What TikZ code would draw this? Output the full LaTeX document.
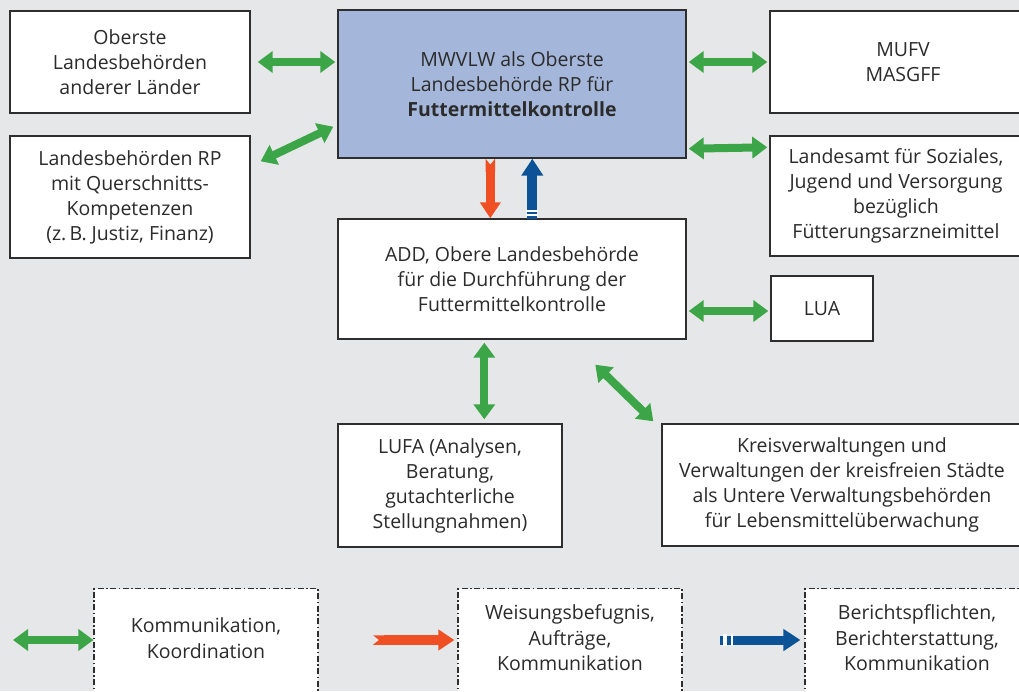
\documentclass[tikz,border=0pt]{standalone}
\usepackage{fontspec}
\setmainfont{Open Sans}
\usetikzlibrary{arrows.meta,calc}
\definecolor{bg}{HTML}{E6E7E8}
\definecolor{bd}{HTML}{2E2E2E}
\definecolor{tx}{HTML}{2B2B2B}
\definecolor{gr}{HTML}{3BA548}
\definecolor{rd}{HTML}{F04E23}
\definecolor{bl}{HTML}{0B5396}
\definecolor{mwfill}{HTML}{A4B6D9}
\begin{document}
\begin{tikzpicture}[x=1pt,y=-1pt,
  box/.style={draw=bd, line width=1.4pt, fill=white, align=center, inner sep=0pt, text=tx, font=\fontsize{19.5}{25}\selectfont},
  legbox/.style={draw=bd, line width=1.2pt, fill=white, align=center, inner sep=0pt, text=tx,
     dash pattern=on 6pt off 2.5pt on 1.5pt off 2.5pt, font=\fontsize{19.5}{25.5}\selectfont,
     minimum width=224pt, minimum height=124pt, anchor=north},
  garrow/.style={draw=gr, line width=8pt, {Triangle[width=21pt,length=15pt]}-{Triangle[width=21pt,length=15pt]}},
  rarrow/.style={draw=rd, line width=9.5pt, {Triangle Cap[reversed,length=6pt]}-{Triangle[width=20pt,length=16pt]}},
  barrow/.style={draw=bl, line width=10pt, -{Triangle[width=21pt,length=17pt]}},
  gap/.style={draw=white, line width=1.7pt}
]
\useasboundingbox (0,0) rectangle (1019,691);
\clip (0,0) rectangle (1019,691);
\fill[bg] (0,0) rectangle (1019,691);

% boxes
\node[box, minimum width=240pt, minimum height=102pt] (o1) at (130,62) {Oberste\\Landesbehörden\\anderer Länder};
\node[box, fill=mwfill, minimum width=348pt, minimum height=148pt] (mw) at (512,84) {MWVLW als Oberste\\Landesbehörde RP für\\\textbf{Futtermittelkontrolle}};
\node[box, minimum width=266pt, minimum height=102pt] (mufv) at (903,62) {MUFV\\MASGFF};
\node[box, minimum width=240pt, minimum height=122pt] (lrp) at (130,197) {Landesbehörden RP\\mit Querschnitts-\\Kompetenzen\\(z.\,B. Justiz, Finanz)};
\node[box, minimum width=252pt, minimum height=120pt] (las) at (896,196) {Landesamt für Soziales,\\Jugend und Versorgung\\bezüglich\\Fütterungsarzneimittel};
\node[box, minimum width=348pt, minimum height=120pt] (add) at (512,279) {ADD, Obere Landesbehörde\\für die Durchführung der\\Futtermittelkontrolle};
\node[box, minimum width=102pt, minimum height=65pt] (lua) at (822,308.5) {LUA};
\node[box, minimum width=224pt, minimum height=123pt] (lufa) at (450,485.5) {LUFA (Analysen,\\Beratung,\\gutachterliche\\Stellungnahmen)};
\node[box, minimum width=360pt, minimum height=122pt] (kv) at (842,485) {Kreisverwaltungen und\\Verwaltungen der kreisfreien Städte\\als Untere Verwaltungsbehörden\\für Lebensmittelüberwachung};

% connectors
\draw[garrow] ($(o1.east)+(7,0)$) -- ($(mw.west |- o1.east)+(-2,0)$);
\draw[garrow] ($(lrp.north east)+(10,26)$) -- ($(mw.south west)+(-4,-32)$);
\draw[garrow] ($(mw.east |- mufv.west)+(2,0)$) -- ($(mufv.west)+(-2,0)$);
\draw[garrow] ($(mw.south east)+(2,-10)$) -- ($(las.north west)+(-2,12)$);
\draw[garrow] ($(add.east |- 0,311)+(2,0)$) -- ($(lua.west |- 0,311)+(-2,0)$);
\draw[garrow] ($(add.south west)+(147,3)$) -- ($(lufa.north west)+(147,-4)$);
\draw[garrow] ($(add.south west)+(258,25)$) -- ($(kv.north west)+(-8,-2)$);

\draw[rarrow] ($(mw.south west)+(153,0)$) -- ($(add.north west)+(153,0)$);
\draw[barrow] ($(add.north west)+(195,1)$) -- ($(mw.south west)+(195,0)$);
\draw[gap] ($(add.north west)+(189,-7.5)$) -- ++(12,0);
\draw[gap] ($(add.north west)+(189,-3.3)$) -- ++(12,0);

% legend
\node[legbox] (leg1) at (206,588) {Kommunikation,\\Koordination\\\mbox{}};
\node[legbox] (leg2) at (570,588) {Weisungsbefugnis,\\Aufträge,\\Kommunikation\\\mbox{}};
\node[legbox] (leg3) at (917,588) {Berichtspflichten,\\Berichterstattung,\\Kommunikation\\\mbox{}};

\coordinate (g1) at (13,640);
\coordinate (r1) at (373,640);
\coordinate (b1) at (720,640);
\draw[garrow] (g1) -- (leg1.west |- g1);
\draw[rarrow] (r1) -- ($(leg2.west |- r1)+(-3,0)$);
\draw[barrow, line width=9pt] (b1) -- ($(leg3.west |- b1)+(-4,0)$);
\draw[gap, line width=3.2pt] ($(b1)+(5,-6)$) -- ++(0,12);
\draw[gap, line width=2.4pt] ($(b1)+(11.8,-6)$) -- ++(0,12);
\end{tikzpicture}
\end{document}
